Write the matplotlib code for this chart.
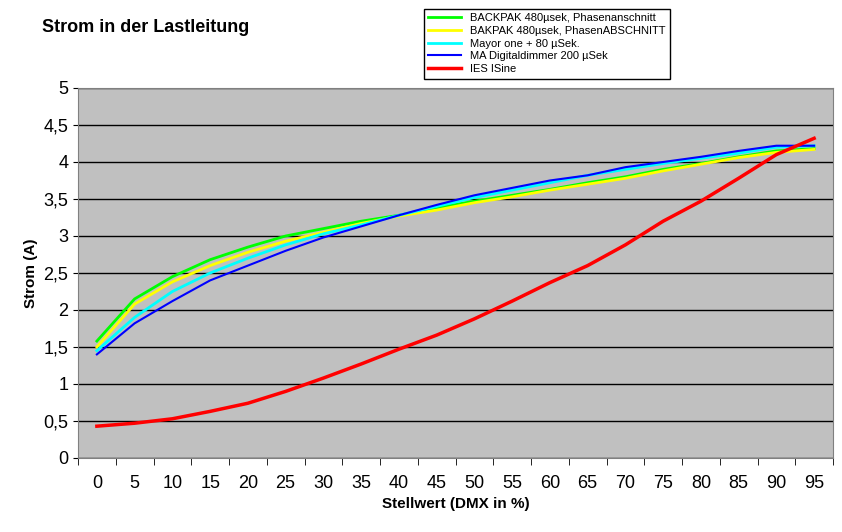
import matplotlib
matplotlib.use("Agg")
import matplotlib.pyplot as plt
import numpy as np

stellwert = list(range(0, 100, 5))
backpak_an = [1.58, 2.15, 2.45, 2.68, 2.85, 3.0, 3.1, 3.2, 3.28, 3.38, 3.47, 3.55, 3.63, 3.72, 3.8, 3.9, 3.98, 4.07, 4.15, 4.18]
bakpak_ab = [1.5, 2.08, 2.38, 2.6, 2.78, 2.93, 3.05, 3.17, 3.27, 3.35, 3.45, 3.53, 3.62, 3.7, 3.78, 3.88, 3.97, 4.06, 4.13, 4.17]
mayor = [1.45, 1.9, 2.25, 2.5, 2.7, 2.88, 3.03, 3.15, 3.28, 3.4, 3.52, 3.62, 3.72, 3.82, 3.9, 3.98, 4.05, 4.12, 4.2, 4.22]
ma_dimmer = [1.4, 1.82, 2.12, 2.4, 2.6, 2.8, 2.98, 3.13, 3.28, 3.42, 3.55, 3.65, 3.75, 3.82, 3.93, 4.0, 4.07, 4.15, 4.22, 4.22]
ies = [0.43, 0.47, 0.53, 0.63, 0.74, 0.9, 1.08, 1.27, 1.47, 1.66, 1.88, 2.12, 2.37, 2.6, 2.88, 3.2, 3.47, 3.78, 4.1, 4.32]

series = [
    ("BACKPAK 480µsek, Phasenanschnitt", backpak_an, "#00ff00", 2),
    ("BAKPAK 480µsek, PhasenABSCHNITT", bakpak_ab, "#ffff00", 2),
    ("Mayor one + 80 µSek.", mayor, "#00ffff", 2),
    ("MA Digitaldimmer 200 µSek", ma_dimmer, "#0000ff", 1.5),
    ("IES ISine", ies, "#ff0000", 2.5),
]

fig = plt.figure(figsize=(8.42, 5.32), dpi=100)
ax = fig.add_axes([78 / 842, 1 - 458 / 532, 755 / 842, 370 / 532])
ax.set_facecolor("#c0c0c0")
x = np.arange(len(stellwert))
handles = []
for name, vals, col, lw in series:
    h, = ax.plot(x, vals, color=col, lw=lw, label=name)
    handles.append(h)

ax.set_xlim(-0.5, len(stellwert) - 0.5)
ax.set_ylim(0, 5)
ax.set_yticks(np.arange(0, 5.01, 0.5))
ax.set_yticklabels([f"{v:g}".replace(".", ",") for v in np.arange(0, 5.01, 0.5)], fontsize=13, family="Liberation Sans")
ax.set_xticks(x)
ax.set_xticklabels([str(s) for s in stellwert], fontsize=13, family="Liberation Sans")
ax.set_xticks(np.arange(-0.5, len(stellwert)), minor=True)
ax.tick_params(axis="x", which="major", length=0, pad=12)
ax.tick_params(axis="x", which="minor", length=5, direction="out")
ax.yaxis.grid(True, color="black", lw=1)
ax.set_axisbelow(True)
for s in ax.spines.values():
    s.set_color("#808080")
ax.set_xlabel("Stellwert (DMX in %)", fontsize=11, fontweight="bold", family="Liberation Sans")
ax.set_ylabel("Strom (A)", fontsize=11, fontweight="bold", family="Liberation Sans")
fig.text(42 / 842, 1 - 28 / 532, "Strom in der Lastleitung", fontsize=13, fontweight="bold",
         family="Liberation Sans", va="center")
fig.legend(handles=handles, loc="upper left", bbox_to_anchor=(418 / 842, 1 - 3 / 532),
           fancybox=False, edgecolor="black", fontsize=8, prop={"family": "Liberation Sans", "size": 8},
           handlelength=3, labelspacing=0.25, borderpad=0.4, framealpha=1)
fig.savefig("out.png", dpi=100)
